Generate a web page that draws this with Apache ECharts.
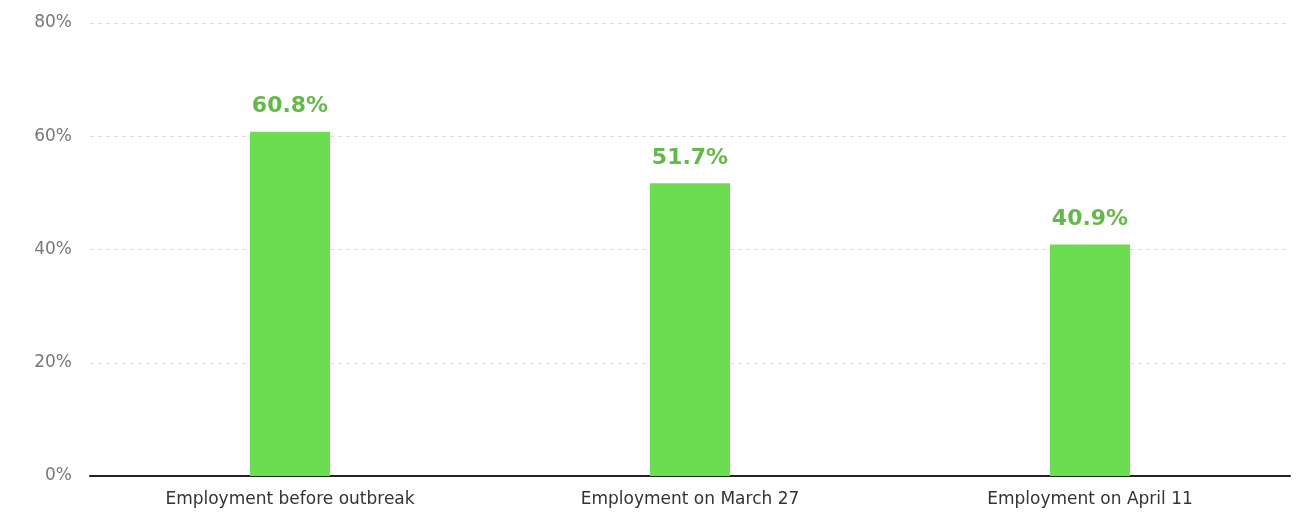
<!DOCTYPE html>
<html>
<head>
<meta charset="utf-8">
<script src="https://cdn.jsdelivr.net/npm/echarts@6/dist/echarts.min.js"></script>
<style>
  html, body { margin: 0; padding: 0; background: #fff; }
  #chart { width: 1306px; height: 513px; }
</style>
</head>
<body>
<div id="chart"></div>
<script>
const categories = ["Employment before outbreak", "Employment on March 27", "Employment on April 11"];
const employmentRate = [60.8, 51.7, 40.9];
const yTicks = [0, 20, 40, 60, 80];

const chart = echarts.init(document.getElementById("chart"));

chart.setOption({
  animation: false,
  grid: { left: 90, right: 16, top: 23, bottom: 37 },
  xAxis: {
    type: "category",
    data: categories,
    axisTick: { show: false },
    axisLine: { lineStyle: { color: "#222", width: 2 } },
    axisLabel: { color: "#333", fontSize: 17, fontFamily: "DejaVu Sans", margin: 15 },
  },
  yAxis: {
    type: "value",
    min: yTicks[0],
    max: yTicks[yTicks.length - 1],
    interval: 20,
    axisLine: { show: false },
    axisTick: { show: false },
    axisLabel: { color: "#777", fontSize: 17, fontFamily: "DejaVu Sans", margin: 18, formatter: "{value}%" },
    splitLine: { lineStyle: { color: "#ddd", type: [4, 4] } },
  },
  series: [
    {
      type: "bar",
      data: employmentRate,
      barWidth: 80,
      itemStyle: { color: "#6cdc50" },
      label: {
        show: true,
        position: "top",
        distance: 14,
        color: "#66b84a",
        fontSize: 22,
        fontWeight: "bold",
        fontFamily: "DejaVu Sans",
        formatter: "{c}%",
      },
    },
  ],
});
</script>
</body>
</html>
